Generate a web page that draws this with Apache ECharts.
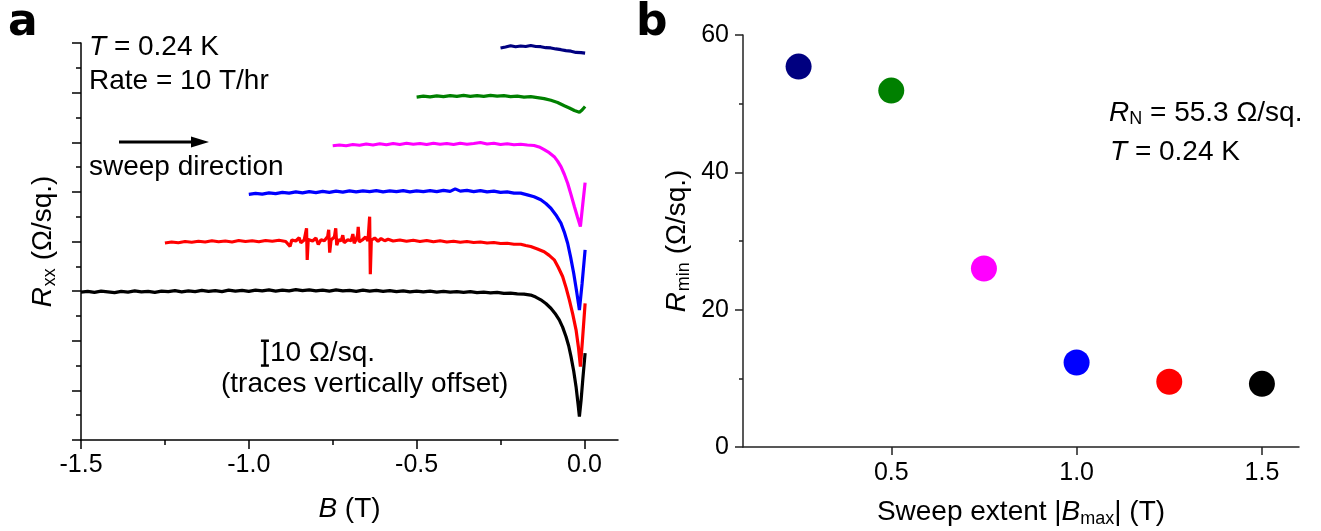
<!DOCTYPE html>
<html>
<head>
<meta charset="utf-8">
<title>Rxx sweeps</title>
<script src="https://cdn.jsdelivr.net/npm/echarts@6.0.0/dist/echarts.min.js"></script>
<style>
html, body { margin: 0; padding: 0; background: #fff; }
#chart { width: 1321px; height: 531px; }
</style>
</head>
<body>
<div id="chart"></div>
<script>
// panel a: Rxx traces, values already include the vertical offset of each trace
const traceBlack = [
  [-1.50, 59.6], [-1.48, 59.9], [-1.46, 59.5], [-1.44, 60.0], [-1.42, 59.7], [-1.40, 59.4], [-1.38, 59.9], [-1.36, 59.6],
  [-1.34, 60.1], [-1.32, 59.7], [-1.30, 59.9], [-1.28, 59.5], [-1.26, 60.0], [-1.24, 59.8], [-1.22, 60.2], [-1.20, 59.7],
  [-1.18, 60.1], [-1.16, 59.8], [-1.14, 60.3], [-1.12, 59.9], [-1.10, 60.2], [-1.08, 59.8], [-1.06, 60.4], [-1.04, 60.0],
  [-1.02, 60.3], [-1.00, 59.9], [-0.98, 60.4], [-0.96, 60.1], [-0.94, 60.5], [-0.92, 60.0], [-0.90, 60.4], [-0.88, 60.1],
  [-0.86, 60.6], [-0.84, 60.2], [-0.82, 60.5], [-0.80, 60.1], [-0.78, 60.4], [-0.76, 60.0], [-0.74, 60.5], [-0.72, 60.1],
  [-0.70, 60.3], [-0.68, 59.9], [-0.66, 60.4], [-0.64, 60.0], [-0.62, 60.3], [-0.60, 59.9], [-0.58, 60.2], [-0.56, 59.8],
  [-0.54, 60.1], [-0.52, 59.7], [-0.50, 60.0], [-0.48, 59.7], [-0.46, 60.0], [-0.44, 59.6], [-0.42, 59.9], [-0.40, 59.6],
  [-0.38, 59.8], [-0.36, 59.5], [-0.34, 59.8], [-0.32, 59.4], [-0.30, 59.6], [-0.28, 59.3], [-0.26, 59.5], [-0.24, 59.1],
  [-0.22, 59.2], [-0.20, 58.9], [-0.18, 58.8], [-0.16, 58.4], [-0.145, 57.6], [-0.13, 56.5], [-0.115, 55.0], [-0.10, 53.1],
  [-0.0875, 51.0], [-0.075, 48.4], [-0.065, 45.5], [-0.055, 41.7], [-0.047, 38.0], [-0.040, 33.6], [-0.032, 27.8],
  [-0.025, 21.5], [-0.019, 14.5], [-0.015, 9.4], [-0.010, 16.0], [-0.005, 24.2], [0.002, 35.0]
]
const traceRed = [
  [-1.25, 79.4], [-1.23, 79.8], [-1.21, 79.5], [-1.19, 80.0], [-1.17, 79.7], [-1.15, 80.1], [-1.13, 79.8], [-1.11, 80.3],
  [-1.09, 79.9], [-1.07, 80.2], [-1.05, 79.8], [-1.03, 80.4], [-1.01, 80.0], [-0.99, 80.3], [-0.97, 79.9], [-0.95, 80.4],
  [-0.93, 80.1], [-0.91, 80.5], [-0.89, 80.0], [-0.877, 78.0], [-0.872, 80.6], [-0.86, 80.2], [-0.85, 81.5], [-0.845, 79.5],
  [-0.835, 80.6], [-0.828, 85.3], [-0.826, 72.6], [-0.823, 80.8], [-0.81, 80.2], [-0.80, 81.4], [-0.793, 78.8], [-0.785, 80.7],
  [-0.775, 80.3], [-0.765, 82.0], [-0.762, 84.7], [-0.759, 75.5], [-0.755, 80.6], [-0.745, 81.8], [-0.741, 85.3], [-0.738, 78.5],
  [-0.732, 80.8], [-0.725, 80.2], [-0.720, 82.5], [-0.716, 79.5], [-0.705, 80.7], [-0.695, 80.3], [-0.690, 83.0], [-0.686, 79.3],
  [-0.680, 80.9], [-0.676, 82.5], [-0.674, 85.9], [-0.671, 79.8], [-0.662, 80.6], [-0.652, 81.8], [-0.645, 80.2], [-0.640, 90.0],
  [-0.638, 66.8], [-0.635, 80.5], [-0.625, 81.4], [-0.615, 80.1], [-0.606, 81.2], [-0.595, 80.3], [-0.585, 80.9], [-0.57, 80.2],
  [-0.55, 80.6], [-0.53, 80.1], [-0.51, 80.5], [-0.49, 80.0], [-0.47, 80.4], [-0.45, 79.9], [-0.43, 80.3], [-0.41, 79.8],
  [-0.39, 80.1], [-0.37, 79.7], [-0.35, 80.0], [-0.33, 79.6], [-0.31, 79.8], [-0.29, 79.4], [-0.27, 79.6], [-0.25, 79.2],
  [-0.23, 79.3], [-0.21, 78.9], [-0.19, 78.9], [-0.175, 78.4], [-0.16, 78.0], [-0.14, 77.0], [-0.12, 75.9], [-0.105, 74.4],
  [-0.09, 72.6], [-0.078, 69.6], [-0.065, 65.9], [-0.055, 61.5], [-0.045, 56.5], [-0.035, 50.8], [-0.025, 44.4],
  [-0.018, 37.5], [-0.012, 29.6], [-0.006, 40.0], [0.002, 55.1]
]
const traceBlue = [
  [-1.00, 99.0], [-0.98, 99.4], [-0.96, 99.1], [-0.94, 99.6], [-0.92, 99.3], [-0.90, 99.8], [-0.88, 99.5], [-0.86, 100.0],
  [-0.84, 99.6], [-0.82, 100.1], [-0.80, 99.7], [-0.78, 100.2], [-0.76, 99.8], [-0.74, 100.3], [-0.72, 99.9], [-0.70, 100.4],
  [-0.68, 100.0], [-0.66, 100.4], [-0.64, 100.1], [-0.62, 100.5], [-0.60, 100.0], [-0.58, 100.4], [-0.56, 100.1], [-0.54, 100.5],
  [-0.52, 100.0], [-0.50, 100.4], [-0.48, 100.1], [-0.46, 100.5], [-0.44, 100.1], [-0.42, 100.6], [-0.40, 100.2], [-0.385, 101.2],
  [-0.37, 100.3], [-0.35, 100.6], [-0.33, 100.1], [-0.31, 100.5], [-0.29, 100.0], [-0.27, 100.3], [-0.25, 99.8], [-0.23, 100.0],
  [-0.21, 99.5], [-0.19, 99.5], [-0.17, 98.8], [-0.15, 98.0], [-0.13, 96.8], [-0.115, 95.3], [-0.10, 93.4], [-0.085, 90.7],
  [-0.07, 87.4], [-0.06, 83.8], [-0.05, 79.3], [-0.041, 73.6], [-0.032, 67.2], [-0.023, 59.6], [-0.015, 52.4],
  [-0.007, 63.0], [0.002, 76.6]
]
const traceMagenta = [
  [-0.75, 118.6], [-0.73, 118.9], [-0.71, 118.6], [-0.69, 119.1], [-0.67, 118.8], [-0.65, 119.3], [-0.63, 118.9], [-0.61, 119.4],
  [-0.59, 119.0], [-0.57, 119.5], [-0.55, 119.1], [-0.53, 119.6], [-0.51, 119.2], [-0.49, 119.5], [-0.47, 119.1], [-0.45, 119.6],
  [-0.43, 119.2], [-0.41, 119.5], [-0.39, 119.1], [-0.37, 119.6], [-0.35, 119.2], [-0.33, 119.5], [-0.31, 119.9], [-0.29, 119.3],
  [-0.27, 119.6], [-0.25, 119.1], [-0.23, 119.4], [-0.21, 119.0], [-0.19, 119.2], [-0.17, 118.9], [-0.15, 118.7], [-0.135, 118.1],
  [-0.12, 117.0], [-0.105, 115.8], [-0.09, 114.2], [-0.08, 112.4], [-0.07, 110.2], [-0.06, 107.1], [-0.05, 103.5],
  [-0.04, 98.9], [-0.03, 94.1], [-0.021, 90.0], [-0.012, 86.0], [-0.005, 95.0], [0.002, 103.7]
]
const traceGreen = [
  [-0.50, 138.2], [-0.48, 138.6], [-0.46, 138.3], [-0.44, 138.7], [-0.42, 138.4], [-0.40, 138.8], [-0.38, 138.5], [-0.36, 138.9],
  [-0.34, 138.5], [-0.32, 138.8], [-0.30, 138.5], [-0.28, 138.9], [-0.26, 138.6], [-0.24, 138.8], [-0.22, 138.4], [-0.20, 138.6],
  [-0.18, 138.2], [-0.16, 138.4], [-0.14, 138.0], [-0.12, 137.6], [-0.10, 136.9], [-0.08, 136.0], [-0.06, 134.7],
  [-0.045, 133.8], [-0.03, 132.8], [-0.015, 132.1], [-0.007, 133.0], [0.002, 134.4]
]
const traceNavy = [
  [-0.25, 158.0], [-0.235, 158.4], [-0.22, 158.9], [-0.205, 158.5], [-0.19, 158.8], [-0.175, 158.6], [-0.16, 159.0],
  [-0.145, 158.6], [-0.13, 158.5], [-0.115, 158.1], [-0.10, 158.0], [-0.085, 157.6], [-0.07, 157.3], [-0.055, 156.9],
  [-0.04, 156.7], [-0.025, 156.2], [-0.01, 156.1], [0.002, 155.9]
]
const traceColors = ['#000000', '#ff0000', '#0000ff', '#ff00ff', '#008000', '#000080']
const bTicks = [-1.5, -1.0, -0.5, 0.0]
const bMinorTicks = [-1.25, -0.75, -0.25]
// 10 Ohm/sq. scale bar: [B, from, to]
const scaleBar = [[-0.952, 30, 40]]

// panel b: minimum resistance vs sweep extent
const sweepExtent = [0.25, 0.5, 0.75, 1.0, 1.25, 1.5]
const rMin = [55.4, 51.9, 26.0, 12.3, 9.5, 9.2]
const dotColors = ['#000080', '#008000', '#ff00ff', '#0000ff', '#ff0000', '#000000']
const extentTicks = [0.5, 1.0, 1.5]

const FONT = 'Liberation Sans, Arial, sans-serif'
const traces = [traceBlack, traceRed, traceBlue, traceMagenta, traceGreen, traceNavy]

const myChart = echarts.init(document.getElementById('chart'), null, { renderer: 'canvas' })

const lineSeries = traces.map((t, i) => ({
  type: 'line',
  xAxisIndex: 0,
  yAxisIndex: 0,
  data: t,
  symbol: 'none',
  lineStyle: { color: traceColors[i], width: 3.2 },
  z: 3
}))

const option = {
  animation: false,
  backgroundColor: '#fff',
  textStyle: { fontFamily: FONT },
  grid: [
    { left: 81, top: 43, width: 537, height: 397, containLabel: false, outerBoundsMode: 'none' },
    { left: 743, top: 35, width: 556, height: 412, containLabel: false, outerBoundsMode: 'none' }
  ],
  xAxis: [
    {
      type: 'value', gridIndex: 0, min: -1.5, max: 0.1, position: 'bottom',
      axisLine: { onZero: false, lineStyle: { color: '#000', width: 1.5 } },
      axisTick: { customValues: bTicks, length: 9, lineStyle: { color: '#000', width: 1.5 } },
      axisLabel: {
        customValues: bTicks, color: '#000', fontSize: 25, margin: 13, fontFamily: FONT,
        formatter: v => v.toFixed(1)
      },
      splitLine: { show: false },
      name: '{i|B} (T)',
      nameLocation: 'middle',
      nameGap: 55,
      nameTextStyle: {
        color: '#000', fontSize: 28, fontFamily: FONT,
        rich: { i: { fontStyle: 'italic', fontSize: 28, fontFamily: FONT } }
      }
    },
    {
      // minor ticks of the B axis
      type: 'value', gridIndex: 0, min: -1.5, max: 0.1, position: 'bottom',
      axisLine: { show: false, onZero: false },
      axisTick: { customValues: bMinorTicks, length: 5, lineStyle: { color: '#000', width: 1.5 } },
      axisLabel: { show: false },
      splitLine: { show: false }
    },
    {
      type: 'value', gridIndex: 1, min: 0.1, max: 1.6, position: 'bottom',
      axisLine: { onZero: false, lineStyle: { color: '#222', width: 1.5 } },
      axisTick: { customValues: extentTicks, length: 8, lineStyle: { color: '#222', width: 1.5 } },
      axisLabel: {
        customValues: extentTicks, color: '#000', fontSize: 25, margin: 14, fontFamily: FONT,
        formatter: v => v.toFixed(1)
      },
      splitLine: { show: false },
      name: 'Sweep extent |{i|B}{sub|max}| (T)',
      nameLocation: 'middle',
      nameGap: 49,
      nameTextStyle: {
        color: '#000', fontSize: 28, fontFamily: FONT,
        rich: {
          i: { fontStyle: 'italic', fontSize: 28, fontFamily: FONT },
          sub: { fontSize: 18, fontFamily: FONT, padding: [14, 0, 0, 0] }
        }
      }
    }
  ],
  yAxis: [
    {
      type: 'value', gridIndex: 0, min: 0, max: 160, interval: 20, position: 'left',
      axisLine: { show: true, onZero: false, lineStyle: { color: '#000', width: 1.5 } },
      axisTick: { show: true, length: 9, lineStyle: { color: '#000', width: 1.5 } },
      minorTick: { show: true, splitNumber: 2, length: 5, lineStyle: { color: '#000', width: 1.5 } },
      axisLabel: { show: false },
      splitLine: { show: false },
      minorSplitLine: { show: false },
      name: '{i|R}{sub|xx} (Ω/sq.)',
      nameLocation: 'middle',
      nameRotate: 90,
      nameGap: 22,
      nameTextStyle: {
        color: '#000', fontSize: 28, fontFamily: FONT,
        rich: {
          i: { fontStyle: 'italic', fontSize: 28, fontFamily: FONT },
          sub: { fontSize: 18, fontFamily: FONT, padding: [14, 0, 0, 1] }
        }
      }
    },
    {
      type: 'value', gridIndex: 1, min: 0, max: 60, interval: 20, position: 'left',
      axisLine: { show: true, onZero: false, lineStyle: { color: '#222', width: 1.5 } },
      axisTick: { show: true, length: 8, lineStyle: { color: '#222', width: 1.5 } },
      minorTick: { show: true, splitNumber: 2, length: 4, lineStyle: { color: '#222', width: 1.5 } },
      axisLabel: { color: '#000', fontSize: 25, margin: 14, fontFamily: FONT },
      splitLine: { show: false },
      minorSplitLine: { show: false },
      name: '{i|R}{sub|min} (Ω/sq.)',
      nameLocation: 'middle',
      nameRotate: 90,
      nameGap: 50,
      nameTextStyle: {
        color: '#000', fontSize: 28, fontFamily: FONT,
        rich: {
          i: { fontStyle: 'italic', fontSize: 28, fontFamily: FONT },
          sub: { fontSize: 18, fontFamily: FONT, padding: [14, 0, 0, 1] }
        }
      }
    }
  ],
  series: lineSeries.concat([
    {
      // scale bar drawn in data units so its height is 10 Ohm/sq.
      type: 'custom',
      xAxisIndex: 0,
      yAxisIndex: 0,
      data: scaleBar,
      encode: { x: 0, y: [1, 2] },
      renderItem: function (params, api) {
        const top = api.coord([api.value(0), api.value(2)])
        const bottom = api.coord([api.value(0), api.value(1)])
        const st = { stroke: '#000', lineWidth: 2.5 }
        return {
          type: 'group',
          children: [
            { type: 'line', shape: { x1: top[0], y1: top[1], x2: bottom[0], y2: bottom[1] }, style: st },
            { type: 'line', shape: { x1: top[0] - 4, y1: top[1], x2: top[0] + 4, y2: top[1] }, style: st },
            { type: 'line', shape: { x1: bottom[0] - 4, y1: bottom[1], x2: bottom[0] + 4, y2: bottom[1] }, style: st }
          ]
        }
      }
    },
    {
      type: 'scatter',
      xAxisIndex: 2,
      yAxisIndex: 1,
      symbol: 'circle',
      symbolSize: 26,
      itemStyle: { opacity: 1 },
      data: sweepExtent.map((x, i) => ({
        value: [x, rMin[i]],
        itemStyle: { color: dotColors[i], opacity: 1 }
      }))
    }
  ]),
  graphic: [
    { type: 'text', x: 8, y: 24, style: { text: 'a', fontSize: 44, fontWeight: 'bold', fontFamily: 'DejaVu Sans', fill: '#000', verticalAlign: 'middle' } },
    { type: 'text', x: 636, y: 24, style: { text: 'b', fontSize: 44, fontWeight: 'bold', fontFamily: 'DejaVu Sans', fill: '#000', verticalAlign: 'middle' } },
    {
      type: 'text', x: 89, y: 47,
      style: {
        text: '{i|T} = 0.24 K', fontSize: 28, fontFamily: FONT, fill: '#000', verticalAlign: 'middle',
        rich: { i: { fontStyle: 'italic', fontSize: 28, fontFamily: FONT } }
      }
    },
    { type: 'text', x: 89, y: 81, style: { text: 'Rate = 10 T/hr', fontSize: 28, fontFamily: FONT, fill: '#000', verticalAlign: 'middle' } },
    { type: 'line', shape: { x1: 119, y1: 142, x2: 195, y2: 142 }, style: { stroke: '#000', lineWidth: 3 } },
    { type: 'polygon', shape: { points: [[191, 136.5], [209, 142], [191, 147.5]] }, style: { fill: '#000' } },
    { type: 'text', x: 89, y: 167, style: { text: 'sweep direction', fontSize: 28, fontFamily: FONT, fill: '#000', verticalAlign: 'middle' } },
    { type: 'text', x: 270, y: 353, style: { text: '10 Ω/sq.', fontSize: 28, fontFamily: FONT, fill: '#000', verticalAlign: 'middle' } },
    { type: 'text', x: 221, y: 384, style: { text: '(traces vertically offset)', fontSize: 28, fontFamily: FONT, fill: '#000', verticalAlign: 'middle' } },
    {
      type: 'text', x: 1109, y: 113,
      style: {
        text: '{i|R}{sub|N} = 55.3 Ω/sq.', fontSize: 28, fontFamily: FONT, fill: '#000', verticalAlign: 'middle',
        rich: {
          i: { fontStyle: 'italic', fontSize: 28, fontFamily: FONT },
          sub: { fontSize: 18, fontFamily: FONT, padding: [13, 0, 0, 0] }
        }
      }
    },
    {
      type: 'text', x: 1110, y: 152,
      style: {
        text: '{i|T} = 0.24 K', fontSize: 28, fontFamily: FONT, fill: '#000', verticalAlign: 'middle',
        rich: { i: { fontStyle: 'italic', fontSize: 28, fontFamily: FONT } }
      }
    }
  ]
}

myChart.setOption(option)
</script>
</body>
</html>
